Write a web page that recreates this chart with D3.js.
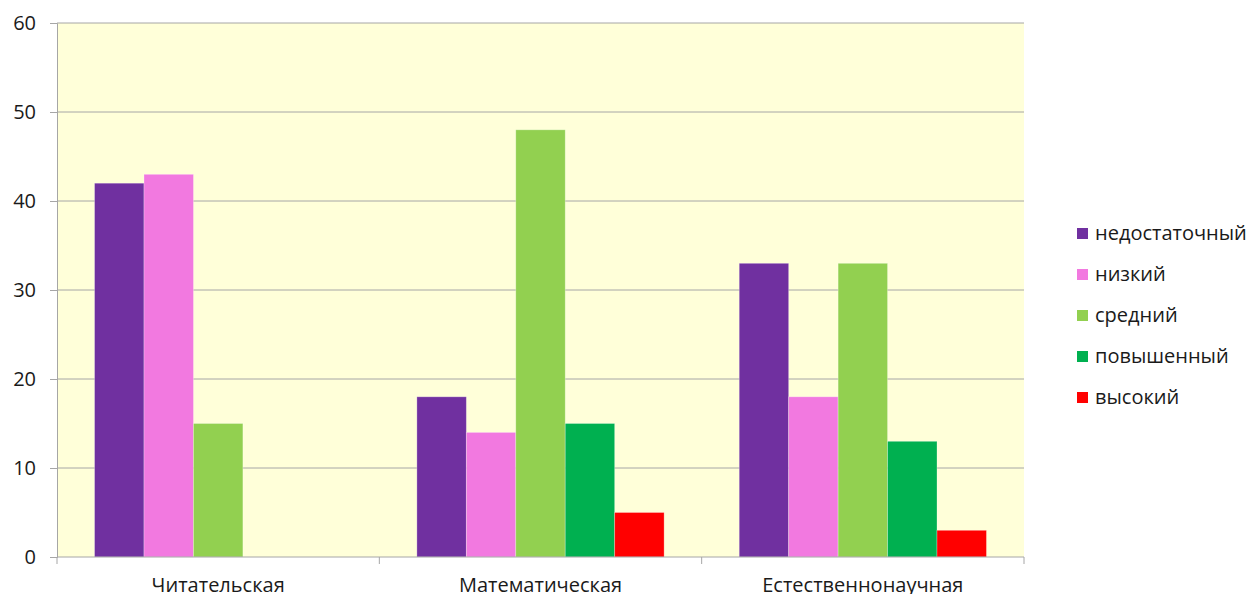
<!DOCTYPE html>
<html><head><meta charset="utf-8">
<script src="https://cdn.jsdelivr.net/npm/d3@7"></script>
<style>body{margin:0;background:#fff}svg{display:block}text{font-family:"Open Sans","Noto Sans",sans-serif;fill:#1a1a1a}</style>
</head><body><svg id="c" width="1252" height="594"></svg>
<script>
const categories = ["Читательская", "Математическая", "Естественнонаучная"];
const seriesNames = ["недостаточный", "низкий", "средний", "повышенный", "высокий"];
const seriesColors = ["#7030A0", "#F279E0", "#92D050", "#00B050", "#FF0000"];
const values = [
  [42, 18, 33],
  [43, 14, 18],
  [15, 48, 33],
  [0, 15, 13],
  [0, 5, 3]
];
const yTicks = [0, 10, 20, 30, 40, 50, 60];

const svg = d3.select("#c");
const L = 57, R = 1024, T = 23, B = 557;
const x0 = d3.scaleBand().domain(categories).range([L, R]).padding(0);
const bw = x0.bandwidth();
const x1 = d3.scaleBand().domain(seriesNames).range([bw * 0.1165, bw * 0.8835]).padding(0);
const y = d3.scaleLinear().domain([0, 60]).range([B, T]);

svg.append("rect").attr("x", L).attr("y", T).attr("width", R - L).attr("height", B - T).attr("fill", "#FFFFD9");

svg.append("g").selectAll("line").data(yTicks.filter(d => d > 0)).join("line")
  .attr("x1", L).attr("x2", R).attr("y1", d => y(d)).attr("y2", d => y(d))
  .attr("stroke", "#A6A6A6").attr("stroke-width", 1);

const groups = svg.append("g").selectAll("g").data(categories).join("g")
  .attr("transform", d => `translate(${x0(d)},0)`);
groups.selectAll("rect").data((c, ci) => seriesNames.map((s, si) => ({s, si, v: values[si][ci]})))
  .join("rect")
  .attr("x", d => x1(d.s)).attr("width", x1.bandwidth())
  .attr("y", d => y(d.v)).attr("height", d => y(0) - y(d.v))
  .attr("fill", d => seriesColors[d.si])
  .attr("stroke", "rgba(255,255,255,0.35)").attr("stroke-width", 0.8);

// y axis
const ya = svg.append("g").attr("transform", `translate(${L},0)`)
  .call(d3.axisLeft(y).tickValues(yTicks).tickSize(7).tickPadding(14));
ya.select(".domain").attr("stroke", "#A6A6A6");
ya.selectAll(".tick line").attr("stroke", "#A6A6A6");
ya.selectAll(".tick text").style("font-size", "20px").style("font-family", "'Open Sans',sans-serif").attr("fill", "#1a1a1a");

// x axis
const xa = svg.append("g").attr("transform", `translate(0,${B})`);
xa.append("line").attr("x1", L).attr("x2", R).attr("stroke", "#A6A6A6");
xa.selectAll("line.t").data([L, ...categories.map(c => x0(c) + bw)]).join("line")
  .attr("class", "t").attr("x1", d => d).attr("x2", d => d).attr("y1", 0).attr("y2", 7).attr("stroke", "#A6A6A6");
xa.selectAll("text").data(categories).join("text")
  .attr("x", d => x0(d) + bw / 2).attr("y", 35).attr("text-anchor", "middle")
  .style("font-size", "20px").text(d => d);

// legend
const lg = svg.append("g").selectAll("g").data(seriesNames).join("g")
  .attr("transform", (d, i) => `translate(1077,${233 + i * 41})`);
lg.append("rect").attr("x", 0).attr("y", -5).attr("width", 11).attr("height", 11)
  .attr("fill", (d, i) => seriesColors[i]);
lg.append("text").attr("x", 18).attr("y", 0).attr("dy", "0.35em")
  .style("font-size", "20px").text(d => d);
</script></body></html>
